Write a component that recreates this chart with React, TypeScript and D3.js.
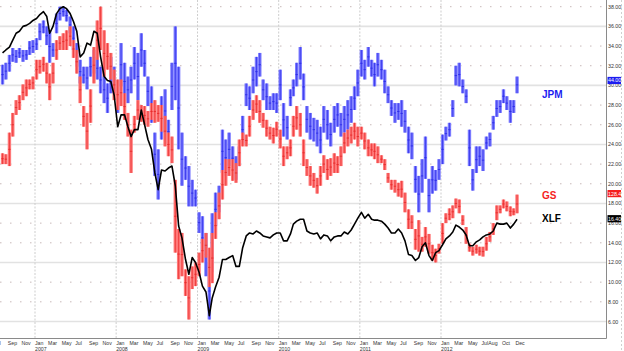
import React from 'react';
import * as d3 from 'd3';

// half-month periods, first one starts Aug 1 2006
const firstPeriod = new Date(2006, 7, 1);

// XLF close, on the chart scale
const xlf = [
  33.3, 33.6, 33.9, 34.6, 35.3, 35.5, 36.0, 36.1, 36.3, 36.6,
  36.8, 37.2, 37.5, 37.0, 35.3, 36.0, 37.3, 37.8, 38.0, 37.8,
  37.3, 36.5, 35.5, 32.9, 33.3, 34.3, 34.1, 35.5, 35.3, 32.9,
  30.9, 30.5, 30.4, 29.0, 25.8, 27.0, 27.0, 25.8, 24.8, 25.5,
  25.5, 27.5, 26.0, 24.5, 23.5, 21.1, 19.4, 21.4, 21.3, 21.6,
  21.8, 19.8, 15.7, 14.5, 12.3, 10.8, 12.5, 12.0, 11.0, 9.6,
  9.0, 6.6, 8.4, 9.5, 10.5, 12.3, 12.3, 12.5, 12.7, 11.6,
  11.6, 13.5, 14.7, 15.0, 14.9, 15.2, 15.0, 14.7, 14.6, 14.5,
  14.8, 15.0, 15.0, 14.2, 14.2, 14.9, 15.9, 16.2, 16.4, 16.4,
  15.2, 15.0, 14.9, 15.0, 14.4, 14.8, 14.7, 14.2, 14.6, 14.7,
  14.7, 15.1, 14.9, 15.3, 15.9, 16.5, 17.1, 16.5, 16.9, 16.4,
  16.3, 16.3, 16.2, 15.9, 15.5, 15.0, 15.0, 15.4, 15.0, 14.2,
  12.8, 12.7, 12.2, 12.5, 13.6, 14.0, 12.7, 12.2, 13.0, 13.2,
  13.8, 14.4, 14.7, 15.1, 15.8, 15.6, 15.3, 14.8, 13.7, 13.7,
  14.1, 14.3, 14.6, 14.8, 14.9, 15.2, 16.0, 15.9, 15.9, 16.0,
  15.5, 15.9, 16.4,
];

// JPM high / low bars
const jpmLow = [
  30.1, 30.6, 31.4, 32.4, 32.3, 32.8, 32.4, 32.6, 33.1, 33.3,
  33.6, 34.6, 35.3, 34.1, 32.3, 32.9, 35.3, 36.6, 37.0, 36.5,
  35.3, 33.6, 31.9, 30.2, 30.2, 29.6, 30.9, 31.2, 30.6, 29.2,
  28.2, 27.2, 29.2, 29.2, 27.2, 29.9, 28.5, 28.2, 29.2, 30.6,
  28.5, 31.9, 30.9, 27.9, 26.2, 20.8, 18.4, 24.5, 25.2, 24.1,
  27.5, 28.5, 23.5, 19.8, 20.4, 17.7, 17.7, 17.7, 15.0, 12.3,
  10.6, 6.2, 11.0, 15.7, 17.1, 21.1, 20.8, 21.8, 21.4, 20.4,
  21.8, 24.1, 27.9, 27.5, 29.2, 29.9, 30.9, 28.5, 27.5, 27.5,
  27.5, 27.2, 28.5, 24.8, 24.5, 27.9, 28.9, 29.9, 30.6, 28.5,
  25.2, 24.5, 24.3, 23.8, 23.1, 25.2, 24.5, 23.8, 25.2, 25.8,
  24.8, 25.2, 25.5, 26.2, 27.5, 28.9, 30.9, 30.6, 31.9, 30.9,
  29.9, 30.9, 30.6, 29.2, 28.2, 26.9, 26.2, 26.5, 25.8, 25.2,
  23.1, 22.5, 19.1, 17.1, 19.1, 20.5, 17.1, 19.0, 19.3, 20.4,
  22.0, 24.4, 24.8, 26.8, 30.0, 29.9, 29.2, 28.2, 21.8, 19.3,
  21.1, 21.8, 21.3, 23.5, 23.8, 25.5, 26.8, 27.2, 28.2, 27.5,
  26.2, 27.2, 29.2,
];
const jpmHigh = [
  32.1, 32.3, 33.1, 33.8, 33.6, 33.8, 33.6, 33.6, 34.5, 34.6,
  34.8, 36.3, 36.6, 36.0, 35.6, 34.3, 37.3, 38.0, 38.0, 37.7,
  37.0, 36.0, 34.3, 32.6, 31.9, 31.9, 32.9, 33.6, 32.9, 31.9,
  30.9, 30.2, 32.9, 31.9, 30.2, 34.3, 32.3, 30.9, 31.9, 33.9,
  33.3, 35.3, 33.6, 30.9, 29.9, 25.2, 23.5, 28.9, 29.6, 26.5,
  32.3, 36.0, 31.9, 25.2, 22.8, 21.8, 20.4, 19.4, 17.1, 16.7,
  15.0, 12.0, 17.0, 19.1, 19.8, 25.5, 24.5, 25.2, 23.8, 22.8,
  23.8, 26.9, 30.2, 29.9, 31.9, 32.9, 33.3, 30.6, 30.2, 28.9,
  29.2, 29.2, 31.6, 28.2, 26.9, 29.6, 30.6, 32.3, 33.9, 31.2,
  27.9, 27.2, 26.7, 26.5, 25.8, 27.9, 27.5, 26.2, 27.9, 28.2,
  27.2, 27.9, 28.5, 28.9, 29.9, 31.6, 33.6, 32.6, 33.9, 32.6,
  32.3, 33.3, 32.6, 31.6, 29.9, 28.5, 28.2, 28.2, 28.5, 27.5,
  25.8, 25.2, 21.8, 20.8, 22.5, 24.8, 20.5, 21.8, 21.4, 22.5,
  25.0, 25.8, 26.2, 28.5, 32.0, 32.3, 30.6, 29.6, 25.5, 21.5,
  23.8, 23.8, 23.5, 24.8, 25.2, 26.9, 28.5, 28.5, 29.6, 28.9,
  28.5, 28.5, 30.9,
];

// GS high / low bars
const gsLow = [
  22.0, 22.0, 21.8, 24.8, 27.0, 27.5, 28.5, 28.9, 29.6, 29.6,
  30.6, 31.2, 31.4, 30.2, 28.5, 30.2, 32.6, 33.6, 33.6, 33.6,
  34.0, 32.8, 31.2, 28.2, 25.8, 23.5, 26.2, 30.2, 32.6, 33.6,
  30.9, 31.6, 30.6, 28.5, 27.5, 27.9, 26.5, 24.8, 21.1, 25.2,
  26.5, 26.3, 26.0, 25.8, 26.5, 26.2, 26.3, 25.3, 23.8, 22.8,
  22.1, 13.0, 10.3, 10.6, 8.6, 6.2, 9.3, 9.6, 10.6, 12.0,
  12.5, 9.5, 9.9, 14.4, 16.4, 18.4, 19.8, 20.8, 20.3, 20.1,
  21.8, 23.8, 23.8, 24.8, 26.5, 27.2, 26.2, 25.7, 24.8, 24.5,
  24.1, 24.8, 23.6, 21.8, 22.5, 22.8, 24.8, 25.5, 24.8, 21.8,
  20.8, 19.8, 19.6, 19.0, 19.8, 21.1, 20.4, 20.8, 21.1, 21.1,
  21.8, 23.1, 23.8, 24.1, 24.5, 23.8, 24.5, 23.5, 22.8, 22.8,
  22.5, 22.1, 22.1, 21.4, 20.1, 19.4, 19.1, 18.7, 18.6, 17.1,
  15.4, 15.4, 13.3, 13.1, 13.1, 13.6, 12.9, 12.2, 12.0, 12.9,
  13.9, 16.0, 16.3, 16.5, 17.5, 17.0, 15.8, 13.9, 13.1, 12.7,
  12.9, 12.7, 12.6, 13.2, 14.1, 14.8, 16.3, 17.0, 17.5, 17.2,
  16.7, 16.8, 17.0,
];
const gsHigh = [
  23.1, 23.0, 25.2, 27.2, 28.5, 29.0, 30.1, 30.6, 30.6, 30.9,
  32.6, 32.6, 32.9, 32.3, 31.2, 32.3, 34.6, 35.0, 35.3, 35.6,
  36.0, 34.6, 33.6, 30.9, 27.9, 27.2, 29.6, 33.9, 36.6, 38.0,
  35.6, 34.3, 33.3, 31.6, 30.6, 30.6, 29.2, 27.2, 25.5, 26.9,
  28.5, 28.0, 27.9, 27.4, 28.2, 28.5, 28.0, 28.0, 26.9, 25.2,
  24.8, 20.4, 15.4, 15.0, 11.3, 10.6, 11.6, 12.0, 13.0, 14.4,
  15.0, 13.5, 15.0, 17.1, 19.1, 21.4, 22.5, 22.5, 22.5, 22.1,
  24.5, 25.2, 25.0, 26.9, 28.5, 29.0, 28.5, 27.2, 26.5, 25.8,
  25.7, 26.3, 25.5, 23.8, 23.8, 24.5, 26.9, 27.9, 27.2, 24.5,
  22.5, 21.8, 21.1, 20.6, 21.8, 22.9, 22.5, 22.6, 23.1, 22.8,
  23.8, 25.2, 25.5, 25.8, 26.2, 25.8, 25.8, 25.2, 24.5, 24.1,
  24.1, 23.8, 22.9, 22.5, 21.1, 20.4, 20.4, 20.1, 20.3, 19.1,
  17.4, 16.8, 15.4, 16.3, 14.6, 15.6, 14.9, 13.8, 13.4, 13.9,
  16.0, 17.0, 17.5, 17.8, 18.5, 18.4, 16.8, 15.6, 13.9, 13.6,
  13.8, 13.6, 13.6, 14.6, 15.1, 16.0, 17.8, 17.8, 18.4, 18.2,
  17.7, 17.5, 18.9,
];

// last values shown in the right-hand boxes
const lastLabels = [
  { name: 'JPM', text: '44.00', at: 30.5, color: '#1c1cf0', labelY: 94 },
  { name: 'GS', text: '128.46', at: 19.0, color: '#f51e1e', labelY: 195 },
  { name: 'XLF', text: '16.40', at: 16.45, color: '#000000', labelY: 218 },
];

const yTicks = d3.range(6, 39, 2);
const monthTicks = [
  '2006-07', '2006-09', '2006-11',
  '2007-01', '2007-03', '2007-05', '2007-07', '2007-09', '2007-11',
  '2008-01', '2008-03', '2008-05', '2008-07', '2008-09', '2008-11',
  '2009-01', '2009-03', '2009-05', '2009-07', '2009-09', '2009-11',
  '2010-01', '2010-03', '2010-05', '2010-07', '2010-09', '2010-11',
  '2011-01', '2011-03', '2011-05', '2011-07', '2011-09', '2011-11',
  '2012-01', '2012-03', '2012-05', '2012-07', '2012-08', '2012-10', '2012-12',
];

const W = 624;
const H = 351;
const plotRight = 606.5;
const plotBottom = 338.5;
const font = '"Liberation Sans", Arial, sans-serif';

const x = d3.scaleTime()
  .domain([new Date(2007, 0, 1), new Date(2012, 0, 1)])
  .range([35, 441]);
const y = d3.scaleLinear().domain([6, 38]).range([321.5, 6.7]);

const periods = d3.timeMonth.range(firstPeriod, new Date(2013, 0, 1))
  .flatMap(m => [m, new Date(m.getFullYear(), m.getMonth(), 16)])
  .slice(0, xlf.length)
  .map(d => d3.timeDay.offset(d, 7));

const parseMonth = d3.timeParse('%Y-%m');

const Bars = ({ low, high, fill, stroke }: { low: number[]; high: number[]; fill: string; stroke: string }) => (
  <g>
    {periods.map((d, i) => {
      const cx = x(d);
      return (
        <g key={i}>
          <rect x={cx - 1.7} y={y(high[i])} width={3.4} height={Math.max(1, y(low[i]) - y(high[i]))} fill={fill} />
          <line x1={cx} x2={cx} y1={y(high[i])} y2={y(low[i])} stroke={stroke} strokeWidth={0.7} />
          <line x1={cx - 1.2} x2={cx + 1.2} y1={y((high[i] + low[i]) / 2)} y2={y((high[i] + low[i]) / 2)} stroke={stroke} strokeWidth={0.8} />
        </g>
      );
    })}
  </g>
);

export default function App() {
  const line = d3.line<number>()
    .x((_, i) => x(periods[i]))
    .y(v => y(v));

  return (
    <svg width={W} height={H} style={{ display: 'block', position: 'absolute', left: 0, top: 0, background: '#fff' }}>
      <defs>
        <clipPath id="plot">
          <rect x={0} y={0} width={plotRight} height={plotBottom} />
        </clipPath>
      </defs>

      {/* horizontal grid */}
      {yTicks.map(v => (
        v % 6 === 0
          ? <line key={v} x1={0} x2={plotRight} y1={y(v)} y2={y(v)} stroke="#e2e2e2" strokeWidth={1.6} />
          : <line key={v} x1={0} x2={plotRight} y1={y(v)} y2={y(v)} stroke="#c8b8b8" strokeWidth={1} strokeDasharray="1.5,8.5" />
      ))}

      {/* year grid */}
      {d3.range(2007, 2013).map(yr => (
        <line key={yr} x1={x(new Date(yr, 0, 1))} x2={x(new Date(yr, 0, 1))} y1={0} y2={plotBottom}
          stroke="#cdcdcd" strokeWidth={1} strokeDasharray="2,1.5" />
      ))}

      <g clipPath="url(#plot)">
        <Bars low={jpmLow} high={jpmHigh} fill="#7a7aff" stroke="#2626e6" />
        <Bars low={gsLow} high={gsHigh} fill="#ff7878" stroke="#e62626" />
        <path d={line(xlf) ?? ''} fill="none" stroke="#000" strokeWidth={1.6} strokeLinejoin="round" />
      </g>

      {/* frame */}
      <line x1={plotRight} x2={plotRight} y1={0} y2={plotBottom} stroke="#8a8a8a" />
      <line x1={0} x2={plotRight} y1={plotBottom} y2={plotBottom} stroke="#8a8a8a" />
      <line x1={621.5} x2={621.5} y1={0} y2={H} stroke="#d0d0d0" strokeDasharray="2,2" />

      {/* right axis */}
      {yTicks.map(v => (
        <text key={v} x={608} y={y(v) + 2} fontFamily={font} fontSize={5.3} fill="#333">{v.toFixed(2)}</text>
      ))}

      {/* last value boxes and names */}
      {lastLabels.map(l => (
        <g key={l.name}>
          <rect x={607.5} y={y(l.at) - 3.6} width={13.5} height={7.2} fill={l.color} />
          <text x={608} y={y(l.at) + 2} fontFamily={font} fontSize={5.3} fill="#fff">{l.text}</text>
          <text x={542} y={l.labelY + 4} fontFamily={font} fontSize={10} fontWeight="bold" fill={l.color}>{l.name}</text>
        </g>
      ))}

      {/* bottom axis */}
      {monthTicks.map(m => {
        const d = parseMonth(m) as Date;
        const px = x(d);
        return (
          <g key={m}>
            <text x={px} y={345} fontFamily={font} fontSize={5.2} fill="#333">{d3.timeFormat('%b')(d)}</text>
            {d.getMonth() === 0 && (
              <text x={px} y={350.5} fontFamily={font} fontSize={5.2} fill="#333">{d3.timeFormat('%Y')(d)}</text>
            )}
          </g>
        );
      })}
    </svg>
  );
}
